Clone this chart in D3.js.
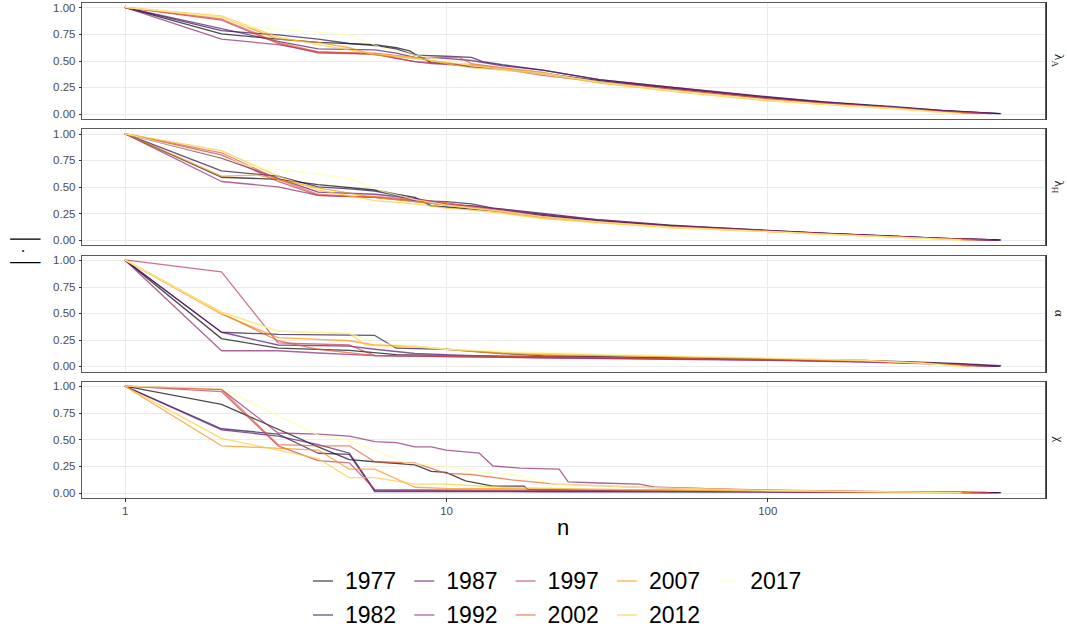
<!DOCTYPE html>
<meta charset="utf-8">
<style>
body { margin: 0; background: #fff; }
svg { font-family: "Liberation Sans", Arial, sans-serif; }
.grid line { stroke: #ebebeb; stroke-width: 1; shape-rendering: crispEdges; }
.axis text { fill: #4d4d4d; font-size: 11.5px; }
.axis line { stroke: #333; shape-rendering: crispEdges; }
.axis path { display: none; }
.series { fill: none; stroke-width: 1.3; stroke-opacity: .7; stroke-linejoin: round; }
.border { fill: none; stroke: #5a5a5a; stroke-width: 1; shape-rendering: crispEdges; }
.strip text { font-family: "Liberation Serif", "DejaVu Serif", serif; font-size: 13px; fill: #1a1a1a; }
.legend text { font-size: 23px; fill: #000; }
</style>
<body>
<script src="https://d3js.org/d3.v7.min.js"></script>
<script>

var years = [1977, 1982, 1987, 1992, 1997, 2002, 2007, 2012, 2017];
var nTicks = [1, 10, 100];
var yTicks = [0, 0.25, 0.5, 0.75, 1];
var stripBase = ["λ", "λ", "α", "χ"];
var stripSub = ["A", "H", "", ""];

// one [n, value] list per year, in the order of `years`
var lambdaA = [
  [[1,1],[2,.75],[3,.70],[4,.67],[6,.65],[7,.62],[7.7,.59],[8,.56],[9,.48],[10,.47],[12,.44],[15,.42],[20,.38],[25,.34],[30,.31],[50,.24],[100,.15],[150,.105],[250,.06],[350,.025],[530,0]],
  [[1,1],[2,.78],[3,.74],[4,.70],[5,.66],[6,.64],[7,.61],[8,.55],[10,.54],[12,.53],[13,.49],[15,.46],[20,.41],[25,.36],[30,.32],[50,.25],[100,.16],[150,.11],[250,.065],[350,.03],[535,0]],
  [[1,1],[2,.80],[3,.68],[4,.61],[6,.60],[7,.57],[8,.53],[10,.52],[12,.50],[15,.45],[20,.41],[30,.32],[50,.25],[100,.155],[150,.11],[250,.06],[350,.03],[520,0]],
  [[1,1],[2,.70],[3,.65],[4,.58],[6,.56],[8,.49],[9,.47],[12,.45],[15,.42],[20,.38],[30,.30],[50,.24],[100,.15],[150,.10],[250,.06],[350,.025],[500,0]],
  [[1,1],[2,.88],[3,.66],[4,.57],[6,.56],[7,.52],[8,.49],[10,.47],[12,.45],[15,.42],[20,.36],[30,.30],[50,.23],[100,.14],[150,.10],[250,.055],[350,.02],[494,0]],
  [[1,1],[2,.89],[3,.67],[4,.58],[6,.57],[8,.53],[11,.53],[12,.47],[15,.43],[20,.38],[30,.30],[50,.23],[100,.14],[150,.10],[250,.055],[350,.02],[460,0]],
  [[1,1],[2,.91],[3,.70],[4,.67],[5,.62],[6,.55],[8,.52],[10,.48],[12,.46],[15,.43],[20,.39],[25,.33],[30,.29],[50,.22],[100,.13],[150,.09],[250,.05],[350,.015],[430,0]],
  [[1,1],[2,.92],[3,.72],[4,.65],[5,.60],[6,.56],[8,.53],[10,.47],[12,.43],[15,.41],[20,.37],[30,.29],[50,.21],[100,.12],[150,.085],[250,.045],[350,.012],[404,0]],
  [[1,1],[2,.91],[2.4,.82],[5,.74],[6.3,.62],[8,.55],[10,.50],[12,.45],[15,.42],[20,.38],[30,.30],[50,.22],[100,.13],[150,.09],[250,.05],[350,.012],[400,0]]
];

var lambdaH = [
  [[1,1],[2,.59],[3,.57],[4,.52],[6,.47],[7,.43],[8,.40],[9,.32],[10,.31],[12,.29],[15,.27],[20,.23],[30,.18],[50,.135],[100,.085],[150,.062],[250,.034],[350,.015],[530,0]],
  [[1,1],[2,.65],[3,.60],[4,.50],[5,.48],[6,.46],[7,.42],[8,.37],[10,.36],[12,.34],[14,.30],[20,.25],[30,.19],[50,.14],[100,.09],[150,.065],[250,.035],[350,.015],[535,0]],
  [[1,1],[2,.77],[3,.58],[4,.45],[6,.43],[8,.39],[10,.34],[12,.32],[15,.28],[20,.24],[30,.18],[50,.13],[100,.088],[150,.063],[250,.034],[350,.015],[520,0]],
  [[1,1],[2,.55],[3,.50],[4,.42],[6,.40],[8,.37],[10,.33],[12,.32],[15,.29],[20,.24],[30,.19],[50,.135],[100,.09],[150,.063],[250,.033],[350,.014],[500,0]],
  [[1,1],[2,.80],[3,.55],[4,.42],[6,.40],[8,.36],[10,.33],[12,.30],[15,.27],[20,.22],[30,.17],[50,.125],[100,.083],[150,.06],[250,.03],[350,.012],[494,0]],
  [[1,1],[2,.82],[3,.57],[4,.43],[5,.41],[6,.41],[8,.38],[10,.35],[12,.31],[15,.27],[20,.22],[30,.17],[50,.125],[100,.082],[150,.058],[250,.03],[350,.01],[460,0]],
  [[1,1],[2,.60],[2.6,.61],[4,.49],[6,.40],[8,.36],[10,.33],[12,.30],[15,.26],[20,.21],[30,.165],[50,.12],[100,.08],[150,.055],[250,.028],[350,.01],[430,0]],
  [[1,1],[2,.84],[3,.60],[4,.47],[6,.37],[8,.34],[10,.30],[12,.28],[15,.25],[20,.20],[30,.16],[50,.115],[100,.078],[150,.053],[250,.026],[350,.008],[404,0]],
  [[1,1],[2,.78],[2.4,.70],[5,.58],[6.3,.46],[8,.38],[10,.33],[12,.30],[15,.27],[20,.22],[30,.17],[50,.12],[100,.08],[150,.055],[250,.027],[350,.008],[400,0]]
];

var alpha = [
  [[1,1],[2,.26],[3,.17],[5,.15],[7,.11],[10,.10],[15,.095],[20,.09],[30,.085],[50,.075],[100,.065],[200,.05],[300,.035],[400,.02],[530,0]],
  [[1,1],[2,.32],[3,.30],[6,.29],[7,.17],[10,.16],[15,.12],[20,.10],[30,.09],[50,.08],[100,.07],[200,.055],[300,.04],[400,.025],[535,.005]],
  [[1,1],[2,.32],[3,.20],[5,.19],[6,.16],[8,.12],[10,.11],[15,.09],[20,.085],[50,.07],[100,.06],[200,.045],[300,.03],[400,.015],[520,0]],
  [[1,1],[2,.146],[3,.146],[4,.125],[6,.10],[10,.09],[20,.08],[50,.065],[100,.055],[200,.04],[300,.025],[400,.012],[500,0]],
  [[1,1],[2,.887],[3,.22],[5,.20],[6,.10],[10,.09],[20,.08],[50,.07],[100,.06],[200,.045],[300,.03],[400,.015],[494,0]],
  [[1,1],[2,.50],[3,.24],[4,.16],[6,.10],[10,.10],[20,.09],[50,.075],[100,.065],[200,.05],[300,.03],[400,.01],[460,0]],
  [[1,1],[2,.49],[3,.27],[5,.24],[6,.20],[8,.19],[10,.16],[15,.12],[20,.11],[50,.09],[100,.075],[200,.055],[300,.035],[430,0]],
  [[1,1],[2,.51],[3,.33],[5,.31],[5.6,.20],[8,.18],[10,.16],[15,.13],[20,.12],[50,.09],[100,.075],[200,.05],[300,.03],[404,0]],
  [[1,1],[2,.50],[3,.33],[5,.31],[6,.22],[8,.19],[10,.16],[13,.15],[20,.13],[50,.10],[100,.08],[200,.055],[300,.03],[400,0]]
];

var chi = [
  [[1,1],[2,.83],[4,.43],[5,.31],[6,.29],[8,.26],[9,.20],[10,.19],[11.5,.11],[14,.06],[17.5,.06],[18,.03],[30,.025],[50,.02],[100,.012],[200,.006],[530,0]],
  [[1,1],[2,.60],[3,.55],[4,.37],[5,.36],[6,.01],[20,.008],[100,.005],[535,0]],
  [[1,1],[2,.59],[3,.53],[4,.45],[5,.37],[6,.02],[20,.015],[100,.008],[520,0]],
  [[1,1],[2,.97],[3,.56],[4,.55],[5,.53],[6,.48],[7,.47],[8,.43],[9,.43],[10,.40],[12.7,.37],[14,.25],[17,.23],[22.5,.22],[24,.10],[30,.09],[40,.08],[45,.05],[100,.02],[200,.01],[500,0]],
  [[1,1],[2,.95],[3,.44],[4,.30],[5,.28],[6,.03],[10,.025],[30,.02],[100,.01],[494,0]],
  [[1,1],[2,.97],[3,.45],[4,.44],[5,.44],[6,.29],[8,.28],[10,.18],[12,.17],[16,.12],[22,.08],[40,.05],[100,.025],[200,.01],[460,0]],
  [[1,1],[2,.44],[4,.40],[5,.22],[6,.22],[8,.05],[10,.04],[30,.03],[100,.015],[430,0]],
  [[1,1],[2,.51],[4,.32],[5,.14],[6,.14],[8,.08],[10,.08],[15,.05],[30,.03],[100,.015],[404,0]],
  [[1,1],[2,.98],[4,.54],[5,.49],[6,.40],[7.5,.28],[10,.25],[13,.19],[16,.17],[22,.08],[40,.05],[100,.02],[400,0]]
];

var panels = [lambdaA, lambdaH, alpha, chi];

var width = 1067, height = 632;
var left = 81, right = 1045, top0 = 2, ph = 117, step = 126.3;

var colors = d3.quantize(d3.interpolateInferno, years.length);

var svg = d3.select("body").append("svg")
    .attr("width", width)
    .attr("height", height);

var nMax = d3.max(panels, function(p) { return d3.max(p, function(s) { return d3.max(s, function(d) { return d[0]; }); }); });
var L = Math.log10(nMax);
var x = d3.scaleLog()
    .domain([Math.pow(10, -0.05 * L), Math.pow(10, 1.05 * L)])
    .range([left, right]);

panels.forEach(function(series, i) {
  var t = top0 + i * step;
  var y = d3.scaleLinear().domain([-0.05, 1.05]).range([t + ph, t]);
  var g = svg.append("g");

  var grid = g.append("g").attr("class", "grid");
  grid.selectAll(".h").data(yTicks).enter().append("line")
      .attr("x1", left).attr("x2", right)
      .attr("y1", function(d) { return Math.round(y(d)) + .5; })
      .attr("y2", function(d) { return Math.round(y(d)) + .5; });
  grid.selectAll(".v").data(nTicks).enter().append("line")
      .attr("y1", t).attr("y2", t + ph)
      .attr("x1", function(d) { return Math.round(x(d)) + .5; })
      .attr("x2", function(d) { return Math.round(x(d)) + .5; });

  var line = d3.line()
      .x(function(d) { return x(d[0]); })
      .y(function(d) { return y(d[1]); });

  g.selectAll(".series").data(series).enter().append("path")
      .attr("class", "series")
      .attr("stroke", function(d, j) { return colors[j]; })
      .attr("d", line);

  g.append("rect").attr("class", "border")
      .attr("x", left + .5).attr("y", Math.round(t) + .5)
      .attr("width", right - left).attr("height", ph);

  g.append("g").attr("class", "axis")
      .attr("transform", "translate(" + (left + .5) + ",0)")
      .call(d3.axisLeft(y).tickValues(yTicks).tickFormat(d3.format(".2f")).tickSize(3).tickPadding(3));

  // strip on the right
  var strip = g.append("g").attr("class", "strip");
  strip.append("line")
      .attr("x1", right + 1.5).attr("x2", right + 1.5)
      .attr("y1", Math.round(t)).attr("y2", Math.round(t) + ph + 1)
      .attr("stroke", "#333").attr("shape-rendering", "crispEdges");
  var st = strip.append("text")
      .attr("transform", "translate(1060," + (t + ph / 2) + ") rotate(90)")
      .attr("text-anchor", "middle")
      .attr("dy", "0.35em");
  st.append("tspan").text(stripBase[i]);
  if (stripSub[i]) st.append("tspan").attr("font-size", "9px").attr("dy", "3").text(stripSub[i]);

  if (i === panels.length - 1) {
    g.append("g").attr("class", "axis")
        .attr("transform", "translate(0," + (t + ph + .5) + ")")
        .call(d3.axisBottom(x).tickValues(nTicks).tickFormat(d3.format("d")).tickSize(4).tickPadding(4));
  }
});

svg.append("text")
    .attr("x", (left + right) / 2).attr("y", 535)
    .attr("text-anchor", "middle")
    .attr("font-size", 22)
    .text("n");

svg.append("text")
    .attr("transform", "translate(22," + (top0 + (3 * step + ph) / 2) + ") rotate(-90)")
    .attr("text-anchor", "middle")
    .attr("dy", "0.35em")
    .attr("font-size", 30)
    .attr("letter-spacing", 2)
    .attr("font-family", "DejaVu Sans")
    .attr("font-weight", 200)
    .text("|·|");

var legend = svg.append("g").attr("class", "legend");
var item = legend.selectAll("g").data(years).enter().append("g")
    .attr("transform", function(d, i) { return "translate(" + (313 + Math.floor(i / 2) * 101.3) + "," + (581 + (i % 2) * 34) + ")"; });
item.append("line")
    .attr("x1", 0).attr("x2", 20)
    .attr("stroke", function(d, i) { return colors[i]; })
    .attr("stroke-opacity", .7)
    .attr("stroke-width", 1.3);
item.append("text")
    .attr("x", 32).attr("dy", "0.36em")
    .text(function(d) { return d; });

</script>
